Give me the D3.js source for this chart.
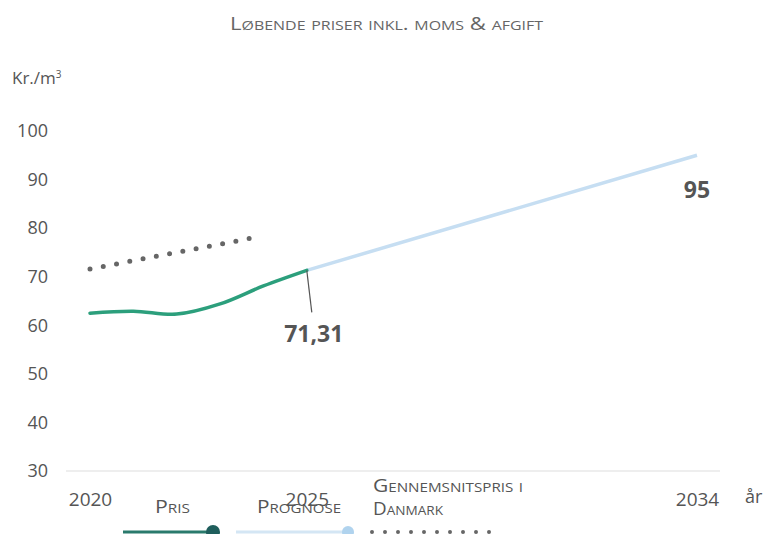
<!DOCTYPE html>
<html>
<head>
<meta charset="utf-8">
<script src="https://cdn.jsdelivr.net/npm/d3@7"></script>
<style>
  body { margin: 0; background: #fff; }
  svg { display: block; font-family: "Open Sans", sans-serif; }
</style>
</head>
<body>
<svg id="chart"></svg>
<script>
const width = 767;
const height = 534;

// data
const prisYears = [2020, 2021, 2022, 2023, 2024, 2025];
const prisValues = [62.5, 62.9, 62.3, 64.4, 68.1, 71.31];
const prognoseYears = [2025, 2034];
const prognoseValues = [71.31, 95];
const snitYears = [2020, 2021, 2022, 2023, 2023.7];
const snitValues = [71.6, 73.3, 75.0, 76.7, 77.9];
const yTicks = [30, 40, 50, 60, 70, 80, 90, 100];
const xTicks = [2020, 2025, 2034];
const legendLabels = [['Pris'], ['Prognose'], ['Gennemsnitspris i', 'Danmark']];

const svg = d3.select('#chart')
    .attr('width', width)
    .attr('height', height);

const x = d3.scaleLinear().domain([2020, 2034]).range([90, 697]);
const y = d3.scaleLinear().domain([30, 100]).range([471, 131]);

// title
svg.append('text')
    .attr('x', 230).attr('y', 30)
    .attr('fill', '#666')
    .attr('textLength', 313)
    .attr('lengthAdjust', 'spacingAndGlyphs')
    .style('font-family', '"Open Sans", sans-serif')
    .style('font-size', '18px')
    .style('font-variant', 'small-caps')
    .text('Løbende priser inkl. moms & afgift');

const unit = svg.append('text')
    .attr('x', 12).attr('y', 84)
    .attr('fill', '#555')
    .style('font-size', '17px')
    .text('Kr./m');
unit.append('tspan')
    .attr('dy', -6)
    .style('font-size', '10px')
    .text('3');

// baseline
svg.append('line')
    .attr('x1', 66).attr('x2', 720)
    .attr('y1', y(30)).attr('y2', y(30))
    .attr('stroke', '#ddd');

const yAxis = svg.append('g')
    .attr('transform', 'translate(48,0)')
    .call(d3.axisLeft(y).tickValues(yTicks).tickSize(0).tickPadding(0));
yAxis.select('.domain').remove();
yAxis.selectAll('text')
    .attr('fill', '#555')
    .style('font-size', '18px')
    .style('font-family', '"Open Sans", sans-serif');

const xAxis = svg.append('g')
    .attr('transform', 'translate(0,492)')
    .call(d3.axisBottom(x).tickValues(xTicks).tickFormat(d3.format('d')).tickSize(0).tickPadding(0));
xAxis.select('.domain').remove();
xAxis.selectAll('text')
    .attr('fill', '#555')
    .style('font-size', '19px')
    .style('font-family', '"Open Sans", sans-serif');

svg.append('text')
    .attr('x', 745).attr('y', 503)
    .attr('fill', '#555')
    .style('font-size', '18px')
    .text('år');

const line = d3.line()
    .x(d => x(d[0]))
    .y(d => y(d[1]));

svg.append('path')
    .datum(d3.zip(snitYears, snitValues))
    .attr('d', line)
    .attr('fill', 'none')
    .attr('stroke', '#666')
    .attr('stroke-width', 5)
    .attr('stroke-linecap', 'round')
    .attr('stroke-dasharray', '0 13.5');

svg.append('path')
    .datum(d3.zip(prognoseYears, prognoseValues))
    .attr('d', line)
    .attr('fill', 'none')
    .attr('stroke', '#c6def2')
    .attr('stroke-width', 3.5);

svg.append('path')
    .datum(d3.zip(prisYears, prisValues))
    .attr('d', line.curve(d3.curveCatmullRom))
    .attr('fill', 'none')
    .attr('stroke', '#2c9f7c')
    .attr('stroke-width', 3.5)
    .attr('stroke-linecap', 'round');

// annotations
const lastPris = prisValues[prisValues.length - 1];
svg.append('line')
    .attr('x1', x(2025)).attr('y1', y(lastPris))
    .attr('x2', x(2025) + 5).attr('y2', y(lastPris) + 42)
    .attr('stroke', '#555')
    .attr('stroke-width', 1.2);
svg.append('text')
    .attr('x', x(2025) + 7).attr('y', 342)
    .attr('text-anchor', 'middle')
    .attr('fill', '#555')
    .style('font-size', '23px')
    .style('font-weight', 'bold')
    .text(d3.format(',.2f')(lastPris).replace('.', ','));

const lastProg = prognoseValues[prognoseValues.length - 1];
svg.append('text')
    .attr('x', x(2034)).attr('y', y(lastProg) + 43)
    .attr('text-anchor', 'middle')
    .attr('fill', '#555')
    .style('font-size', '23px')
    .style('font-weight', 'bold')
    .text(lastProg);

// legend
const legend = svg.append('g')
    .attr('fill', '#555')
    .style('font-size', '18px')
    .style('font-variant', 'small-caps');

const legendText = [
    { t: legendLabels[0][0], x: 155, y: 513, w: 35 },
    { t: legendLabels[1][0], x: 257, y: 513, w: 84 },
    { t: legendLabels[2][0], x: 373, y: 492, w: 150 },
    { t: legendLabels[2][1], x: 373, y: 515, w: 70 }
];
legend.selectAll('text')
    .data(legendText)
    .join('text')
    .attr('x', d => d.x)
    .attr('y', d => d.y)
    .attr('textLength', d => d.w)
    .attr('lengthAdjust', 'spacingAndGlyphs')
    .text(d => d.t);

svg.append('line')
    .attr('x1', 123).attr('x2', 213).attr('y1', 532).attr('y2', 532)
    .attr('stroke', '#2a7a6c').attr('stroke-width', 3);
svg.append('circle')
    .attr('cx', 213).attr('cy', 532).attr('r', 7)
    .attr('fill', '#1f5e5c');
svg.append('line')
    .attr('x1', 236).attr('x2', 348).attr('y1', 532).attr('y2', 532)
    .attr('stroke', '#d4e6f4').attr('stroke-width', 3);
svg.append('circle')
    .attr('cx', 348).attr('cy', 532).attr('r', 6)
    .attr('fill', '#b0d3ee');
svg.append('line')
    .attr('x1', 372).attr('x2', 502).attr('y1', 532).attr('y2', 532)
    .attr('stroke', '#666').attr('stroke-width', 4)
    .attr('stroke-linecap', 'round')
    .attr('stroke-dasharray', '0 13');
</script>
</body>
</html>
